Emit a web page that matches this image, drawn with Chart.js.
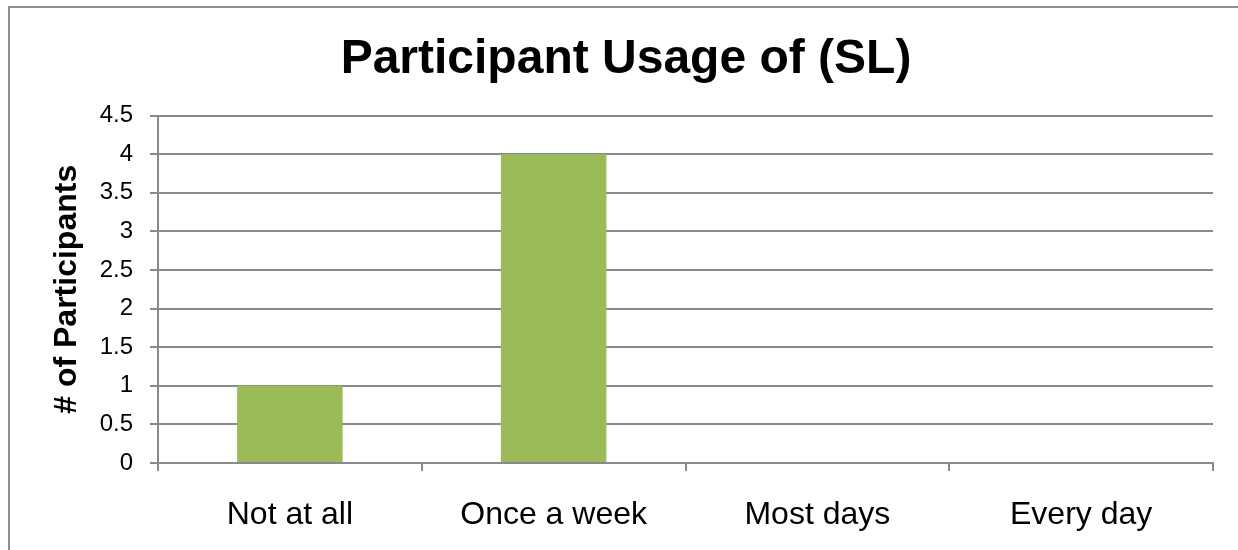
<!DOCTYPE html>
<html>
<head>
<meta charset="utf-8">
<script src="https://cdn.jsdelivr.net/npm/chart.js@4/dist/chart.umd.min.js"></script>
<style>
  html, body { margin: 0; padding: 0; background: #fff; }
  #wrap { position: relative; width: 1238px; height: 550px; overflow: hidden; }
  #frame { position: absolute; left: 8px; top: 6px; width: 1300px; height: 600px;
           border-left: 2px solid #8e8e8e; border-top: 2px solid #8e8e8e; }
  canvas { position: absolute; left: 0; top: 0; }
</style>
</head>
<body>
<div id="wrap">
  <div id="frame"></div>
  <canvas id="chart" width="1238" height="550"></canvas>
</div>
<script>
const categories = ["Not at all", "Once a week", "Most days", "Every day"];
const participants = [1, 4, 0, 0];
const yTicks = [0, 0.5, 1, 1.5, 2, 2.5, 3, 3.5, 4, 4.5];

const FONT = "'Liberation Sans', Arial, sans-serif";
const GRID = "#8a8a8a";

new Chart(document.getElementById("chart").getContext("2d"), {
  type: "bar",
  data: {
    labels: categories,
    datasets: [{
      data: participants,
      backgroundColor: "#9bbb59",
      barPercentage: 0.4,
      categoryPercentage: 1,
    }],
  },
  options: {
    responsive: false,
    animation: false,
    layout: { padding: { left: 39, right: 25, top: 10, bottom: 0 } },
    plugins: {
      legend: { display: false },
      tooltip: { enabled: false },
      title: {
        display: true,
        text: "Participant Usage of (SL)",
        color: "#000",
        font: { family: FONT, size: 48, weight: "bold" },
        padding: { top: 21, bottom: 27 },
      },
    },
    scales: {
      x: {
        grid: { offset: true, drawOnChartArea: false, drawTicks: true, tickLength: 8, color: GRID, lineWidth: 2 },
        border: { color: GRID, width: 2 },
        ticks: { color: "#000", font: { family: FONT, size: 32 }, padding: 25 },
        afterFit: (s) => { s.height = 87; },
      },
      y: {
        min: 0,
        max: 4.5,
        afterBuildTicks: (s) => { s.ticks = yTicks.map((v) => ({ value: v })); },
        grid: { color: GRID, lineWidth: 2, tickLength: 8 },
        border: { color: GRID, width: 2 },
        ticks: { color: "#000", font: { family: FONT, size: 24 }, padding: 17, callback: (v) => String(v) },
        title: {
          display: true,
          text: "# of Participants",
          color: "#000",
          font: { family: FONT, size: 32, weight: "bold" },
          padding: { top: 9, bottom: 0 },
        },
        afterFit: (s) => { s.width = 119; },
      },
    },
  },
});
</script>
</body>
</html>
